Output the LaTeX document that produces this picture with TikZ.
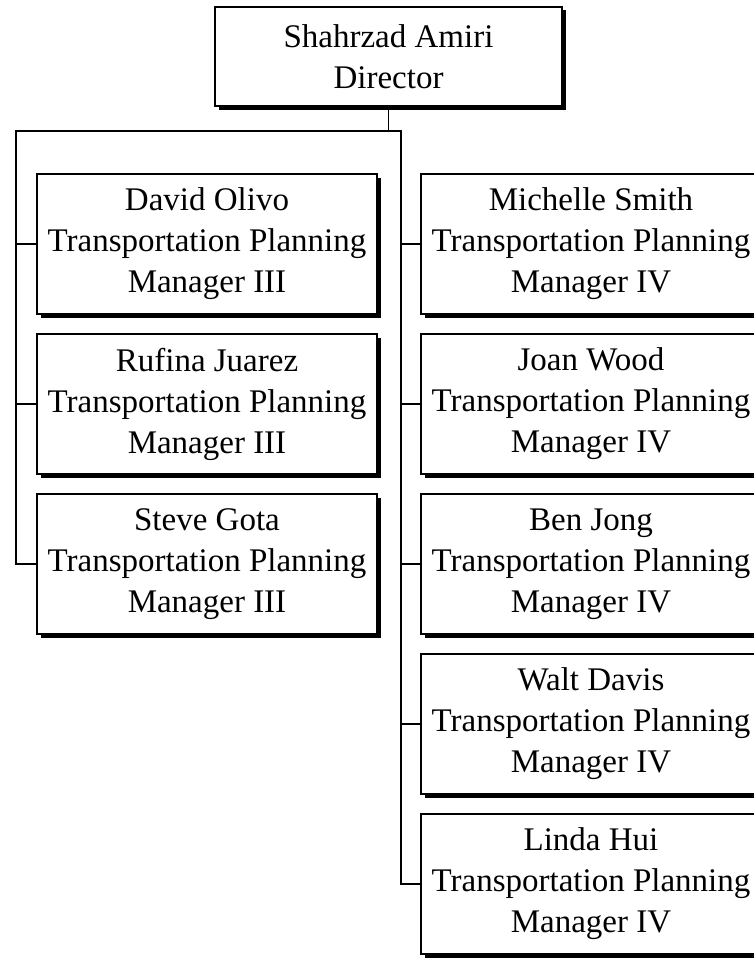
\documentclass[tikz,border=0pt]{standalone}
\usepackage{fontspec}
\setmainfont{Liberation Serif}
\usetikzlibrary{shadows}
\begin{document}
\begin{tikzpicture}[x=1pt,y=1pt,
  box/.style={draw=black, line width=1.6pt, fill=white, align=center,
    font={\fontsize{33}{41}\selectfont}, inner sep=0pt,
    drop shadow={shadow xshift=3.5pt, shadow yshift=-3.5pt, fill=black, opacity=1}},
  person/.style={box, minimum width=340pt, minimum height=140pt},
  link/.style={draw=black, line width=1.5pt}]
\clip (0,0) rectangle (754,-958);
\fill[white] (0,0) rectangle (754,-958);

\node[box, minimum width=347pt, minimum height=99pt] (dir) at (388.5,-56.5)
  {Shahrzad Amiri\\Director};

\node[person] (david)  at (207,-244) {David Olivo\\Transportation Planning\\Manager III};
\node[person] (rufina) at (207,-404) {Rufina Juarez\\Transportation Planning\\Manager III};
\node[person] (steve)  at (207,-564) {Steve Gota\\Transportation Planning\\Manager III};

\node[person] (michelle) at (591,-244) {Michelle Smith\\Transportation Planning\\Manager IV};
\node[person] (joan)     at (591,-404) {Joan Wood\\Transportation Planning\\Manager IV};
\node[person] (ben)      at (591,-564) {Ben Jong\\Transportation Planning\\Manager IV};
\node[person] (walt)     at (591,-724) {Walt Davis\\Transportation Planning\\Manager IV};
\node[person] (linda)    at (591,-884) {Linda Hui\\Transportation Planning\\Manager IV};

\coordinate (lt) at (16,-131);
\coordinate (rt) at (401,-131);

\draw[link] (dir.south) -- (dir.south |- lt);
\draw[link] (steve.west) -| (lt) -- (rt) |- (linda.west);
\draw[link] (david.west) -- (david.west -| lt);
\draw[link] (rufina.west) -- (rufina.west -| lt);
\draw[link] (michelle.west) -- (michelle.west -| rt);
\draw[link] (joan.west) -- (joan.west -| rt);
\draw[link] (ben.west) -- (ben.west -| rt);
\draw[link] (walt.west) -- (walt.west -| rt);
\end{tikzpicture}
\end{document}
